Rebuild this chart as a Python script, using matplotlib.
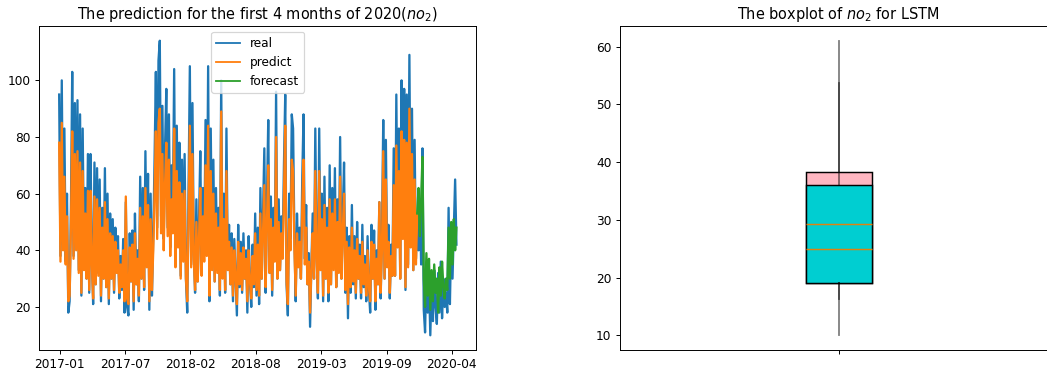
import numpy as np
import pandas as pd
import matplotlib
matplotlib.use("Agg")
import matplotlib.pyplot as plt
import matplotlib.dates as mdates
from matplotlib.ticker import FixedLocator
from matplotlib.lines import Line2D

# ---------------- data ----------------
start_date = "2016-12-30"
step = "4D"

real = [
    95, 38, 100, 42, 83, 36, 60, 18,
    22, 55, 103, 38, 92, 45, 93, 33,
    88, 24, 83, 35, 62, 30, 74, 25,
    74, 38, 21, 71, 28, 69, 32, 65,
    22, 55, 30, 69, 27, 60, 21, 53,
    30, 51, 25, 48, 33, 45, 23, 38,
    26, 44, 18, 57, 20, 17, 46, 29,
    47, 19, 53, 28, 40, 22, 66, 30,
    62, 26, 75, 35, 67, 19, 60, 24,
    45, 72, 103, 48, 107, 114, 52, 91,
    44, 76, 97, 48, 88, 41, 70, 52,
    104, 36, 84, 45, 78, 31, 72, 38,
    74, 30, 18, 62, 105, 35, 92, 40,
    25, 58, 29, 50, 75, 32, 62, 38,
    86, 40, 105, 22, 83, 35, 72, 29,
    62, 33, 55, 24, 100, 31, 60, 25,
    83, 35, 49, 28, 46, 22, 44, 30,
    17, 49, 27, 43, 25, 46, 30, 40,
    18, 45, 29, 20, 42, 27, 53, 24,
    48, 21, 62, 30, 53, 76, 25, 58,
    86, 32, 59, 24, 55, 38, 96, 30,
    58, 33, 52, 40, 70, 95, 28, 17,
    60, 44, 88, 83, 45, 22, 53, 35,
    48, 30, 65, 88, 37, 56, 28, 39,
    13, 35, 53, 30, 83, 40, 23, 83,
    35, 60, 22, 66, 30, 55, 22, 70,
    28, 62, 35, 69, 27, 58, 33, 80,
    30, 52, 71, 25, 48, 16, 45, 25,
    56, 28, 45, 23, 50, 30, 42, 23,
    49, 27, 38, 22, 45, 26, 18, 49,
    30, 47, 19, 40, 28, 57, 23, 45,
    86, 30, 79, 35, 49, 23, 42, 31,
    76, 31, 95, 45, 83, 30, 100, 50,
    97, 26, 95, 35, 109, 45, 90, 33,
    79, 37, 53, 40, 58, 35, 76, 19,
    11, 35, 18, 30, 10, 28, 15, 33,
    20, 14, 32, 18, 36, 16, 30, 20,
    25, 18, 55, 21, 45, 30, 48, 65, 42,
]

predict = [
    78, 36, 85, 40, 66, 35, 52, 22,
    24, 48, 82, 37, 74, 40, 75, 32,
    71, 25, 68, 33, 53, 30, 61, 26,
    61, 35, 23, 59, 28, 58, 31, 55,
    24, 48, 30, 57, 27, 51, 23, 46,
    30, 45, 26, 43, 32, 40, 25, 35,
    27, 40, 22, 59, 23, 21, 41, 29,
    42, 22, 46, 28, 37, 24, 55, 30,
    52, 27, 62, 34, 56, 22, 51, 26,
    40, 60, 82, 44, 85, 90, 46, 74,
    40, 63, 78, 45, 72, 38, 58, 46,
    83, 34, 68, 41, 64, 30, 60, 36,
    61, 30, 22, 52, 84, 34, 74, 37,
    26, 50, 29, 44, 62, 31, 52, 36,
    70, 38, 84, 24, 68, 33, 60, 29,
    53, 32, 48, 26, 89, 30, 51, 26,
    68, 33, 43, 28, 41, 24, 40, 30,
    21, 43, 28, 39, 26, 41, 30, 37,
    22, 40, 29, 23, 38, 28, 46, 26,
    42, 24, 53, 30, 46, 63, 27, 50,
    70, 32, 51, 26, 48, 36, 80, 30,
    50, 33, 46, 37, 59, 84, 29, 21,
    51, 40, 72, 68, 41, 24, 46, 34,
    43, 30, 55, 72, 35, 48, 28, 36,
    18, 34, 46, 30, 68, 37, 25, 68,
    33, 51, 24, 56, 30, 48, 25, 58,
    28, 53, 33, 58, 27, 50, 32, 66,
    30, 46, 60, 26, 43, 21, 41, 27,
    48, 29, 40, 25, 44, 30, 38, 25,
    43, 28, 35, 24, 40, 27, 22, 43,
    30, 42, 22, 37, 28, 57, 25, 40,
    75, 30, 65, 34, 43, 25, 38, 31,
    63, 31, 77, 41, 68, 30, 82, 44,
    79, 27, 78, 34, 90, 41, 74, 33,
    65, 35, 53,
]

forecast = [
    53, 62, 45, 58, 73, 30, 20, 39,
    24, 37, 19, 33, 22, 35, 25, 30,
    18, 34, 24, 36, 27, 23, 30, 26,
    48, 30, 50, 35, 51, 40, 48,
]
forecast_offset = len(predict) - 1  # forecast starts where predict ends

xtick_dates = ["2017-01-01", "2017-07-20", "2018-02-05", "2018-08-24",
               "2019-03-12", "2019-09-28", "2020-04-15"]
xtick_labels = ["2017-01", "2017-07", "2018-02", "2018-08",
                "2019-03", "2019-09", "2020-04"]

# boxplot statistics: [pink box, cyan box]
box_q1 = [19.0, 19.0]
box_med = [29.3, 24.9]
box_q3 = [38.3, 36.0]
box_lo = [10.0, 16.2]
box_hi = [61.0, 53.6]
box_colors = ["#FFB6C1", "#00CED1"]

# ---------------- figure ----------------
DPI = 87
fig = plt.figure(figsize=(1047 / DPI, 373 / DPI), dpi=DPI)

dates = pd.date_range(start_date, periods=len(real), freq=step)

ax1 = fig.add_axes([39.3 / 1047, 23 / 373, 437 / 1047, 324 / 373])
LW = 1.9
ax1.plot(dates, real, color="C0", lw=LW)
ax1.plot(dates[:len(predict)], predict, color="C1", lw=LW)
ax1.plot(dates[forecast_offset:forecast_offset + len(forecast)], forecast,
         color="C2", lw=LW)
ax1.xaxis.set_major_locator(FixedLocator(mdates.date2num(pd.to_datetime(xtick_dates))))
ax1.set_xticklabels(xtick_labels)
ax1.set_title("The prediction for the first 4 months of 2020($no_2$)")
handles = [Line2D([], [], color=c, lw=1.5) for c in ("C0", "C1", "C2")]
ax1.legend(handles, ["real", "predict", "forecast"], loc="upper center")

ax2 = fig.add_axes([620 / 1047, 23 / 373, 437.4 / 1047, 324 / 373])
for k in range(2):
    stats = [dict(q1=box_q1[k], med=box_med[k], q3=box_q3[k],
                  whislo=box_lo[k], whishi=box_hi[k], fliers=[])]
    res = ax2.bxp(stats, positions=[1], widths=0.15, patch_artist=True,
                  showcaps=False, showfliers=False,
                  boxprops=dict(facecolor=box_colors[k], edgecolor="black", linewidth=1.2),
                  whiskerprops=dict(color="black", alpha=0.5, linewidth=1.5),
                  medianprops=dict(color="#e0820f", linewidth=1.2))
    for b in res["boxes"]:
        b.set_zorder(1 + k)
    for w in res["whiskers"]:
        w.set_zorder(4)
    for m in res["medians"]:
        m.set_zorder(5)
ax2.set_xlim(0.5, 1.5)
ax2.set_xticks([1])
ax2.set_xticklabels([""])
ax2.set_title("The boxplot of $no_2$ for LSTM")

fig.savefig("out.png", dpi=DPI)
